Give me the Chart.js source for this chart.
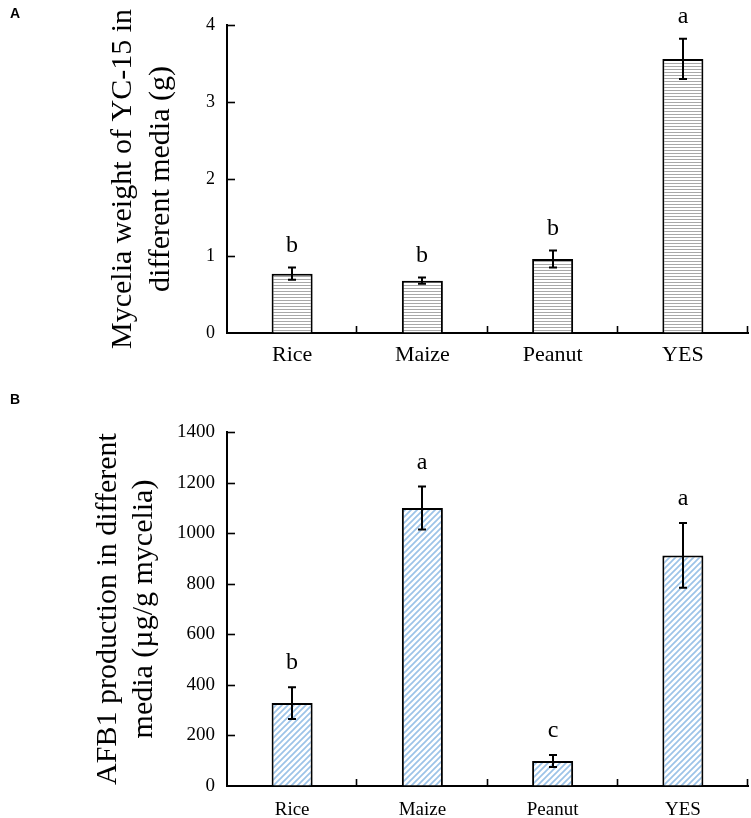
<!DOCTYPE html>
<html><head><meta charset="utf-8">
<script src="https://cdn.jsdelivr.net/npm/chart.js@4.4.0/dist/chart.umd.min.js"></script>
<style>
html,body{margin:0;padding:0;background:#fff;}
#wrap{position:relative;width:751px;height:818px;overflow:hidden;}
canvas{position:absolute;left:0;}
</style></head><body>
<div id="wrap">
<canvas id="cA" width="751" height="375" style="top:0"></canvas>
<canvas id="cB" width="751" height="443" style="top:375px"></canvas>
</div>
<script>
const categories = ['Rice', 'Maize', 'Peanut', 'YES'];
const mycelia = [0.77, 0.68, 0.96, 3.56];
const myceliaErr = [0.08, 0.04, 0.11, 0.26];
const myceliaLetters = ['b', 'b', 'b', 'a'];
const yTicksA = [0, 1, 2, 3, 4];
const afb1 = [328, 1099, 99, 912];
const afb1Err = [63, 85, 24, 128];
const afb1Letters = ['b', 'a', 'c', 'a'];
const yTicksB = [0, 200, 400, 600, 800, 1000, 1200, 1400];

const SERIF = "'Times New Roman', 'Liberation Serif', serif";
const SANS = "Arial, 'Liberation Sans', sans-serif";

function hPattern() {
  const c = document.createElement('canvas'); c.width = 4; c.height = 3;
  const x = c.getContext('2d');
  x.fillStyle = '#ffffff'; x.fillRect(0, 0, 4, 3);
  x.fillStyle = '#a8a8a8'; x.fillRect(0, 0, 4, 1);
  return x.createPattern(c, 'repeat');
}
function dPattern() {
  const s = 6;
  const c = document.createElement('canvas'); c.width = s; c.height = s;
  const x = c.getContext('2d');
  x.fillStyle = '#ffffff'; x.fillRect(0, 0, s, s);
  x.strokeStyle = '#9cc3e8'; x.lineWidth = 1.7;
  x.beginPath();
  x.moveTo(0, s); x.lineTo(s, 0);
  x.moveTo(-1, 1); x.lineTo(1, -1);
  x.moveTo(s - 1, s + 1); x.lineTo(s + 1, s - 1);
  x.stroke();
  return x.createPattern(c, 'repeat');
}

const deco = {
  id: 'deco',
  afterDatasetsDraw(chart, args, opts) {
    const ctx = chart.ctx, xs = chart.scales.x, ys = chart.scales.y;
    const ca = chart.chartArea;
    ctx.save();
    ctx.strokeStyle = '#000'; ctx.lineWidth = 1.6;
    ys.ticks.forEach(t => {
      if (t.value === ys.min) return;
      const py = Math.round(ys.getPixelForValue(t.value)) + 0.5;
      ctx.beginPath(); ctx.moveTo(ca.left, py); ctx.lineTo(ca.left + 8, py); ctx.stroke();
    });
    const n = chart.data.labels.length;
    const half = (xs.getPixelForValue(1) - xs.getPixelForValue(0)) / 2;
    for (let i = 0; i < n; i++) {
      const px = Math.round(xs.getPixelForValue(i) + half) - 0.5;
      ctx.beginPath(); ctx.moveTo(px, ca.bottom); ctx.lineTo(px, ca.bottom - 7); ctx.stroke();
    }
    const meta = chart.getDatasetMeta(0);
    const vals = chart.data.datasets[0].data;
    ctx.lineWidth = 2;
    ctx.fillStyle = '#000';
    ctx.font = opts.letterSize + 'px ' + SERIF;
    ctx.textAlign = 'center'; ctx.textBaseline = 'alphabetic';
    vals.forEach((v, i) => {
      const e = opts.errs[i];
      const px = Math.round(meta.data[i].x);
      const top = ys.getPixelForValue(v + e), bot = ys.getPixelForValue(v - e);
      ctx.beginPath();
      ctx.moveTo(px, top); ctx.lineTo(px, bot);
      ctx.moveTo(px - 4, top); ctx.lineTo(px + 4, top);
      ctx.moveTo(px - 4, bot); ctx.lineTo(px + 4, bot);
      ctx.stroke();
      ctx.fillText(opts.letters[i], px, top - opts.gap);
    });
    ctx.font = 'bold 14px ' + SANS;
    ctx.textAlign = 'left';
    ctx.fillText(opts.panel, opts.panelX, opts.panelY);
    ctx.restore();
  }
};

function makeChart(id, values, errs, letters, ticks, title, cfg) {
  return new Chart(document.getElementById(id), {
    type: 'bar',
    data: {
      labels: categories,
      datasets: [{
        data: values,
        backgroundColor: cfg.pattern,
        borderColor: '#000',
        borderWidth: 2,
        categoryPercentage: 1,
        barPercentage: 0.315
      }]
    },
    options: {
      responsive: false,
      animation: false,
      devicePixelRatio: 1,
      layout: { padding: { left: 0, right: 3, top: cfg.top, bottom: 0 } },
      plugins: {
        legend: { display: false },
        tooltip: { enabled: false },
        deco: { errs: errs, letters: letters, gap: cfg.gap, letterSize: cfg.letterSize, panel: cfg.panel, panelX: 10, panelY: cfg.panelY }
      },
      scales: {
        x: {
          grid: { display: true, drawOnChartArea: false, drawTicks: false, color: 'rgba(0,0,0,0)' },
          border: { display: true, color: '#000', width: 2 },
          ticks: { color: '#000', font: { family: SERIF, size: cfg.xFont }, padding: cfg.xPad, maxRotation: 0 },
          afterFit(s) { s.height = cfg.xH; }
        },
        y: {
          min: ticks[0], max: ticks[ticks.length - 1],
          ticks: { stepSize: ticks[1] - ticks[0], color: '#000', font: { family: SERIF, size: cfg.yFont }, padding: 12,
                   callback: (v) => String(v) },
          grid: { display: true, drawOnChartArea: false, drawTicks: false, color: 'rgba(0,0,0,0)' },
          border: { display: true, color: '#000', width: 2 },
          title: { display: true, text: title, color: '#000', font: { family: SERIF, size: 30, lineHeight: cfg.tLH }, padding: { top: cfg.tPad, bottom: 0 } },
          afterFit(s) { s.width = 227; }
        }
      }
    },
    plugins: [deco]
  });
}

makeChart('cA', mycelia, myceliaErr, myceliaLetters, yTicksA,
  ['Mycelia weight of YC-15 in', 'different media (g)'],
  { pattern: hPattern(), top: 25, gap: 16, letterSize: 24, panel: 'A', panelY: 18, xFont: 22, xPad: 9, xH: 42, yFont: 18, tLH: 1.28, tPad: 104 });

makeChart('cB', afb1, afb1Err, afb1Letters, yTicksB,
  ['AFB1 production in different', 'media (\u00b5g/g mycelia)'],
  { pattern: dPattern(), top: 57, gap: 18, letterSize: 24, panel: 'B', panelY: 29, xFont: 19, xPad: 13, xH: 32, yFont: 19, tLH: 1.2, tPad: 90 });
</script>
</body></html>
